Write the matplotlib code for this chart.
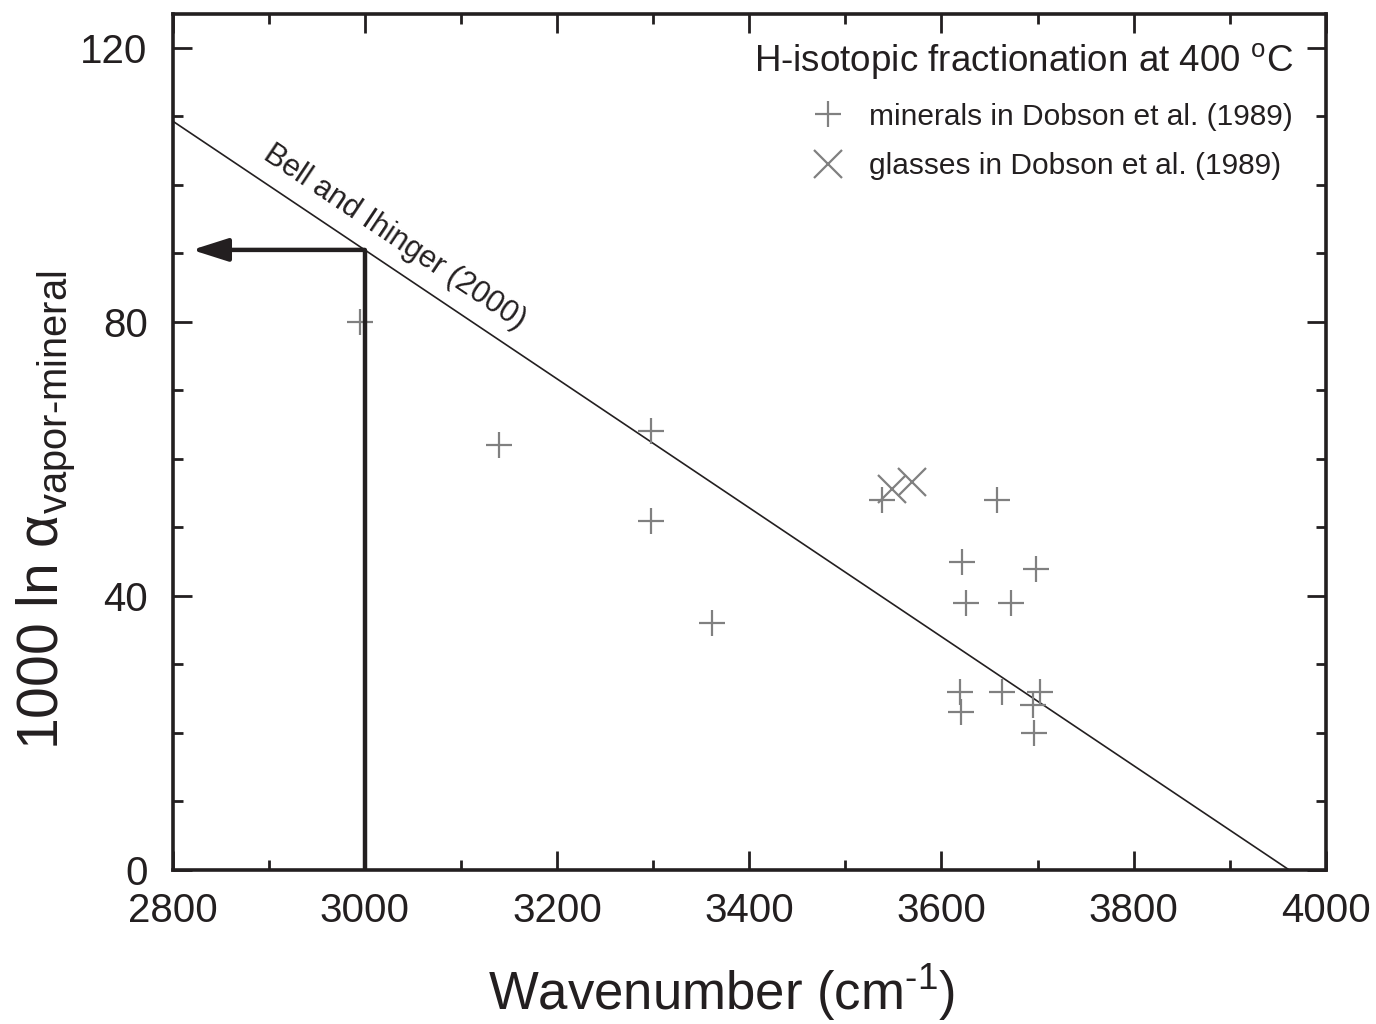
import matplotlib
matplotlib.use('Agg')
import matplotlib.pyplot as plt
from matplotlib.lines import Line2D
from matplotlib.ticker import MultipleLocator

plt.rcParams['font.family'] = ['Liberation Sans', 'DejaVu Sans']
plt.rcParams['mathtext.fontset'] = 'custom'
plt.rcParams['mathtext.rm'] = 'Liberation Sans'
plt.rcParams['mathtext.it'] = 'Liberation Sans:italic'

# minerals in Dobson et al. (1989)
mineral_x = [2995, 3140, 3298, 3298, 3361, 3538, 3658, 3621, 3698, 3626, 3672,
             3619, 3663, 3703, 3620, 3695, 3696]
mineral_y = [80.0, 62.0, 64.0, 51.0, 36.0, 54.0, 54.0, 45.0, 44.0, 39.0, 39.0,
             26.0, 26.0, 26.0, 23.0, 24.1, 20.0]
# glasses in Dobson et al. (1989)
glass_x = [3549, 3569]
glass_y = [55.6, 56.6]
# Bell and Ihinger (2000) line end points
bell_x = [2800, 3962]
bell_y = [109.3, 0.0]
# reading example at 3000 cm-1
read_x = 3000
read_y = 90.5
arrow_end_x = 2820

black = '#231f20'
gray = '#808080'

fig = plt.figure(figsize=(13.76, 10.24), dpi=100)
ax = fig.add_axes([0.1255, 0.1504, 0.838, 0.8364])

ax.plot(bell_x, bell_y, color=black, lw=1.2)
ax.plot(mineral_x, mineral_y, ls='none', marker='+', ms=19, mew=1.6, color=gray)
ax.plot(glass_x, glass_y, ls='none', marker='x', ms=20, mew=1.6, color=gray)

ax.plot([read_x, read_x], [0, read_y], color=black, lw=3.2, solid_capstyle='butt')
ax.annotate('', xy=(arrow_end_x, read_y), xytext=(read_x, read_y),
            arrowprops=dict(arrowstyle='-|>,head_length=1.1,head_width=0.35',
                            lw=3.2, color=black, mutation_scale=20,
                            shrinkA=0, shrinkB=0))

ax.text(3031, 92.3, 'Bell and Ihinger (2000)', rotation=-33.8, fontsize=22,
        ha='center', va='center', color=black, rotation_mode='anchor')

ax.set_xlim(2800, 4000)
ax.set_ylim(0, 125)
ax.xaxis.set_major_locator(MultipleLocator(200))
ax.xaxis.set_minor_locator(MultipleLocator(100))
ax.yaxis.set_major_locator(MultipleLocator(40))
ax.yaxis.set_minor_locator(MultipleLocator(10))
ax.tick_params(which='both', direction='in', top=True, right=True,
               width=2, color=black, labelsize=29, labelcolor=black)
ax.tick_params(which='major', length=14)
ax.tick_params(which='minor', length=7.5)
ax.tick_params(axis='x', which='major', pad=16)
ax.tick_params(axis='y', which='major', pad=18)
for s in ax.spines.values():
    s.set_linewidth(2.6)
    s.set_color(black)

ax.set_xlabel('Wavenumber (cm$^{\\text{-}1}$)', fontsize=38, color=black)
ax.xaxis.set_label_coords(0.476, -0.108)
ax.set_ylabel('1000 ln α$_{\\text{vapor-mineral}}$', fontsize=41, color=black)
ax.yaxis.set_label_coords(-0.083, 0.42)

handles = [Line2D([], [], ls='none', marker='+', ms=19, mew=1.6, color=gray),
           Line2D([], [], ls='none', marker='x', ms=20, mew=1.6, color=gray)]
leg = ax.legend(handles, ['minerals in Dobson et al. (1989)',
                          'glasses in Dobson et al. (1989)'],
                title='H-isotopic fractionation at 400 $^{\\mathrm{o}}$C',
                loc='upper right', bbox_to_anchor=(0.995, 0.999),
                frameon=False, fontsize=21.5, title_fontsize=26.5,
                alignment='right', handletextpad=0.8, labelspacing=0.72,
                handlelength=1.2)
for t in leg.get_texts():
    t.set_color(black)
leg.get_title().set_color(black)

fig.savefig('out.png', dpi=100)
